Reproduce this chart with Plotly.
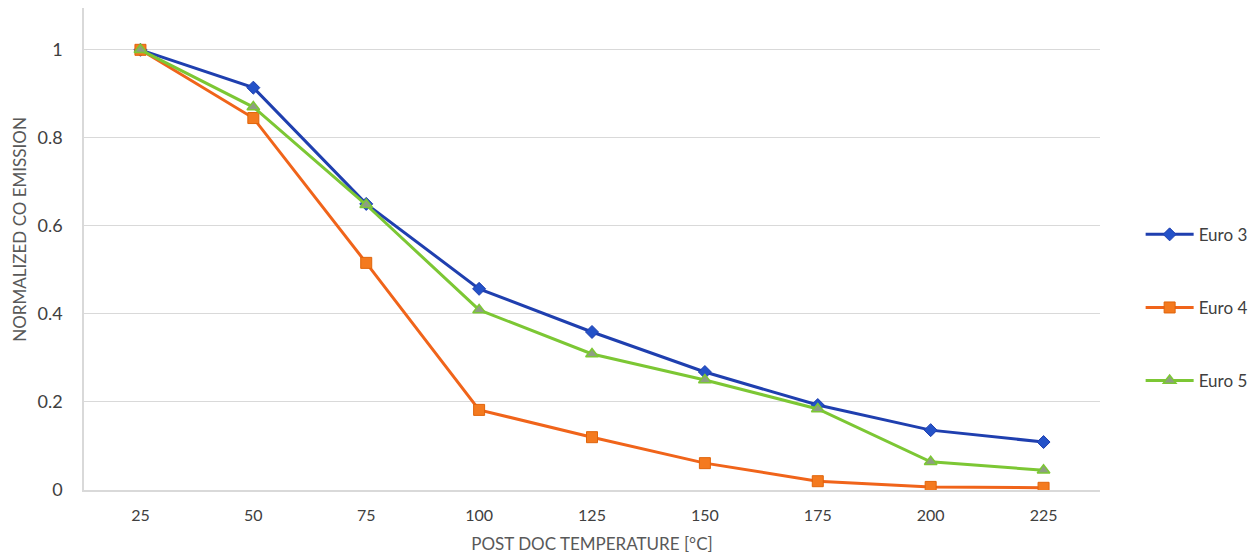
import plotly.graph_objects as go

temps = ["25", "50", "75", "100", "125", "150", "175", "200", "225"]
euro3 = [1.0, 0.914, 0.650, 0.457, 0.359, 0.268, 0.193, 0.136, 0.109]
euro4 = [1.0, 0.845, 0.516, 0.182, 0.120, 0.061, 0.020, 0.007, 0.005]
euro5 = [1.0, 0.870, 0.648, 0.409, 0.309, 0.250, 0.184, 0.064, 0.045]

FONT = "Lato"

fig = go.Figure()
fig.add_trace(go.Scatter(x=temps, y=euro3, name="Euro 3", mode="lines+markers",
                         legendgroup="a",
                         line=dict(color="#1F3FAF", width=3),
                         marker=dict(symbol="diamond", size=10, color="#2452C8",
                                     line=dict(color="#1F3FAF", width=1))))
fig.add_trace(go.Scatter(x=temps, y=euro4, name="Euro 4", mode="lines+markers",
                         legendgroup="b",
                         line=dict(color="#F0641A", width=3),
                         marker=dict(symbol="square", size=11, color="#F47A1F",
                                     line=dict(color="#E0640A", width=1))))
fig.add_trace(go.Scatter(x=temps, y=euro5, name="Euro 5", mode="lines+markers",
                         legendgroup="c",
                         line=dict(color="#7CC734", width=3),
                         marker=dict(symbol="triangle-up", size=11, color="#8E9E82",
                                     line=dict(color="#7CC734", width=1.5))))

# page body has an 8px margin; figure sized so plot area lands at x 84-1100, y 8-490
fig.update_layout(
    width=1251, height=546,
    paper_bgcolor="white", plot_bgcolor="white",
    margin=dict(l=76, r=159, t=0, b=64, autoexpand=False),
    font=dict(family=FONT, color="#404040"),
    showlegend=True,
    legend=dict(x=1.04, y=0.378, xanchor="left", yanchor="middle",
                tracegroupgap=48, itemwidth=48,
                font=dict(size=17, color="#404040", family=FONT),
                bgcolor="rgba(0,0,0,0)"),
    xaxis=dict(type="category", range=[-0.5, 8.5], automargin=False,
               title=dict(text="POST DOC TEMPERATURE [°C]", font=dict(size=17, color="#595959"), standoff=16),
               tickfont=dict(size=16, color="#404040"),
               showgrid=False, showline=True, linecolor="#D9D9D9", linewidth=1.5,
               ticks="", ticklabelstandoff=10, zeroline=False),
    yaxis=dict(range=[0, 1.095], tickvals=[0, 0.2, 0.4, 0.6, 0.8, 1.0], automargin=False,
               ticktext=["0", "0.2", "0.4", "0.6", "0.8", "1"],
               tickfont=dict(size=18, color="#404040"),
               showgrid=True, gridcolor="#D9D9D9", gridwidth=1,
               showline=True, linecolor="#D9D9D9", linewidth=1.5,
               zeroline=False, ticks="", ticklabelstandoff=16),
    annotations=[dict(text="NORMALIZED CO EMISSION", xref="paper", yref="paper",
                      x=0, y=0.54, xanchor="center", yanchor="middle", xshift=-64,
                      textangle=-90, showarrow=False,
                      font=dict(size=17, color="#595959", family=FONT))],
)

fig.write_html("out.html")
